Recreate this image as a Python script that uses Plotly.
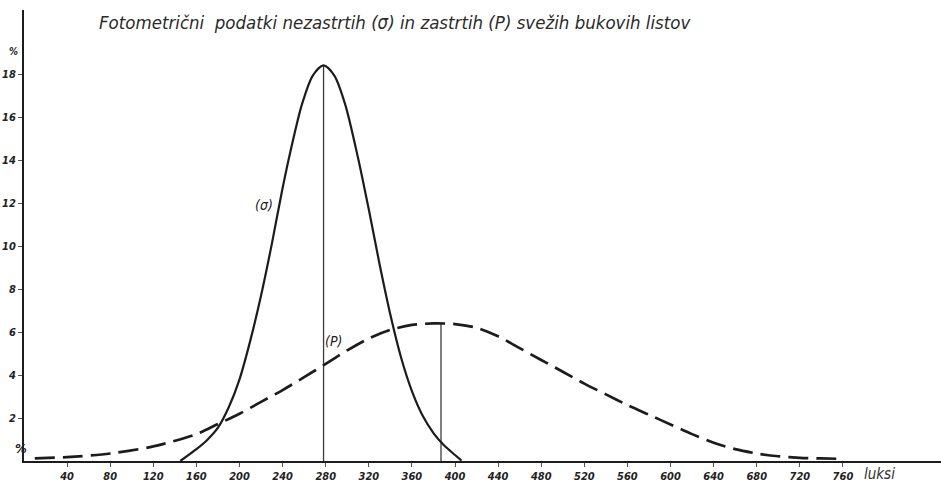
import plotly.graph_objects as go

# Unshaded leaves (σ) – solid curve
o_lux = [145, 160, 170, 180, 190, 200, 210, 220, 230, 240, 250, 258, 268, 278,
         288, 298, 310, 320, 330, 340, 350, 360, 370, 380, 390, 400, 406]
o_pct = [0.0, 0.55, 0.98, 1.55, 2.5, 3.8, 5.6, 7.7, 10.1, 12.7, 15.0, 16.6, 17.93, 18.4,
         17.93, 16.6, 14.1, 11.7, 9.15, 6.8, 4.8, 3.25, 2.1, 1.3, 0.72, 0.28, 0.02]

# Shaded leaves (P) – dashed curve
p_lux = [10, 40, 80, 120, 160, 180, 200, 220, 240, 260, 280, 300, 320, 340, 360, 380,
         400, 420, 440, 460, 480, 500, 520, 540, 560, 580, 600, 620, 640, 660, 680,
         700, 720, 740, 760]
p_pct = [0.12, 0.18, 0.35, 0.68, 1.25, 1.72, 2.2, 2.75, 3.3, 3.9, 4.52, 5.15, 5.7, 6.1,
         6.33, 6.4, 6.37, 6.2, 5.8, 5.25, 4.7, 4.15, 3.6, 3.1, 2.6, 2.15, 1.7, 1.25,
         0.85, 0.55, 0.35, 0.22, 0.15, 0.12, 0.1]

# peak (mode) markers
o_peak = (278, 18.4)
p_peak = (387, 6.4)

x_ticks = [40, 80, 120, 160, 200, 240, 280, 320, 360, 400, 440, 480, 520, 560, 600,
           640, 680, 720, 760]
y_ticks = [2, 4, 6, 8, 10, 12, 14, 16, 18]

title_text = "Fotometrični  podatki nezastrtih (σ) in zastrtih (P) svežih bukovih listov"

ink = "#1c1c1c"
font_family = "DejaVu Sans Condensed, DejaVu Sans, sans-serif"

fig = go.Figure()
fig.add_trace(go.Scatter(x=[o_peak[0], o_peak[0]], y=[0, o_peak[1]], mode="lines",
                         line=dict(color="#3a3a3a", width=1.3), hoverinfo="skip"))
fig.add_trace(go.Scatter(x=[p_peak[0], p_peak[0]], y=[0, p_peak[1]], mode="lines",
                         line=dict(color="#3a3a3a", width=1.3), hoverinfo="skip"))
fig.add_trace(go.Scatter(x=o_lux, y=o_pct, mode="lines",
                         line=dict(color=ink, width=2.2, shape="spline", smoothing=0.8),
                         name="σ"))
fig.add_trace(go.Scatter(x=p_lux, y=p_pct, mode="lines",
                         line=dict(color=ink, width=2.7, dash="20px,8px", shape="spline",
                                   smoothing=0.8),
                         name="P"))

tickfont = dict(family=font_family, size=11, color="#222", style="italic", weight="bold")

fig.update_layout(
    width=941, height=488,
    margin=dict(l=24, r=0, t=10, b=27),
    paper_bgcolor="white", plot_bgcolor="white",
    showlegend=False,
    xaxis=dict(range=[0, 851], tickvals=x_ticks, ticktext=[str(v) for v in x_ticks],
               showgrid=False, zeroline=False, showline=True, linecolor=ink, linewidth=2,
               ticks="outside", ticklen=4, tickwidth=1, tickcolor="#555", tickfont=tickfont),
    yaxis=dict(range=[0, 20.98], tickvals=y_ticks, ticktext=[str(v) for v in y_ticks],
               showgrid=False, zeroline=False, showline=True, linecolor=ink, linewidth=2,
               ticks="outside", ticklen=4, tickwidth=1, tickcolor="#555", tickfont=tickfont),
)

ann_font = dict(family=font_family, size=14, color="#222", style="italic")
fig.add_annotation(text=title_text, xref="paper", yref="paper", x=0.08, y=0.972,
                   xanchor="left", yanchor="middle", showarrow=False,
                   font=dict(family=font_family, size=18.5, color="#2a2a2a", style="italic"))
fig.add_annotation(text="(σ)", x=223, y=11.9, xref="x", yref="y", showarrow=False,
                   font=ann_font)
fig.add_annotation(text="(P)", x=287, y=5.6, xref="x", yref="y", showarrow=False,
                   font=ann_font)
fig.add_annotation(text="%", xref="paper", yref="y", x=-0.018, y=19.05, showarrow=False,
                   font=dict(family=font_family, size=10, color="#222", style="italic", weight="bold"))
fig.add_annotation(text="%", xref="paper", yref="y", x=-0.012, y=0.6, showarrow=False,
                   font=dict(family=font_family, size=13, color="#222", style="italic", weight="bold"))
fig.add_annotation(text="luksi", x=794, y=0, xref="x", yref="y", yshift=-13,
                   showarrow=False, font=dict(family=font_family, size=15, color="#333", style="italic"))

fig.write_html("out.html")
